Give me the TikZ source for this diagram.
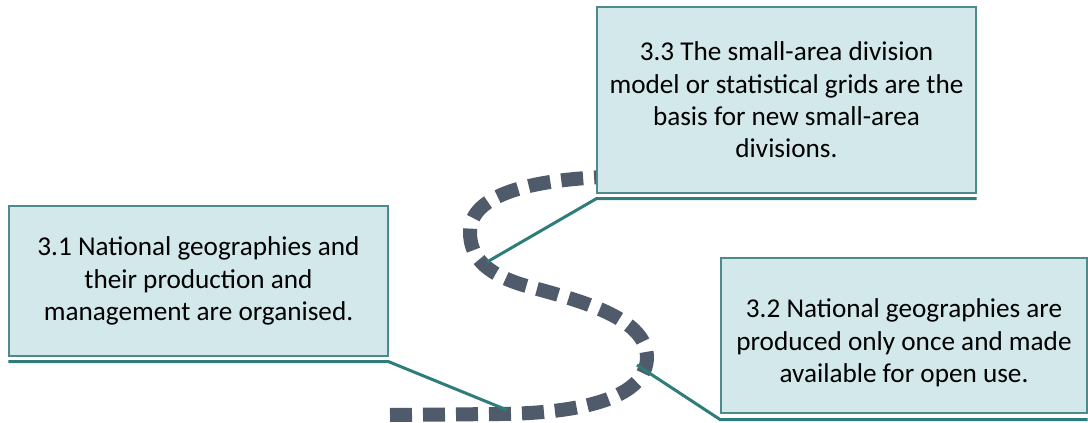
\documentclass[tikz,border=0pt]{standalone}
\usepackage{fontspec}
\setmainfont{Carlito}
\usepackage{xcolor}
\definecolor{Col1}{RGB}{78,138,140}
\definecolor{Col2}{RGB}{46,125,122}
\definecolor{Col3}{RGB}{210,232,234}
\definecolor{Col4}{RGB}{79,90,106}
\usepackage{tikz}
\tikzstyle{Box}=[draw=Col1,fill=Col3,line width=.7pt,align=center,
inner sep=0pt,font=\fontsize{13.6}{16.2}\selectfont]
\tikzstyle{Edge}=[draw=Col2,line width=1.5pt]
\tikzstyle{Road}=[draw=Col4,line width=7pt,dash pattern=on 11pt off 5.5pt]

\begin{document}
\begin{tikzpicture}[x=.5pt,y=-.5pt]
            \useasboundingbox(0,0)rectangle(1088,423);
            \draw[Road](390,415)--(500,414)
                ..controls(590,413)and(647,395)..(647,357)
                ..controls(646,320)and(590,303)..(530,287)
                ..controls(490,276)and(470,260)..(470,232)
                ..controls(470,195)and(530,180)..(605,177);
            \node[Box,minimum width=189.5pt,minimum height=75pt](b1)
                at(198.5,281){3.1 National geographies and\\
                their production and\\management are organised.};
            \node[Box,minimum width=189.5pt,minimum height=93pt](b3)
                at(786.5,100){3.3 The small-area division\\
                model or statistical grids are the\\
                basis for new small-area\\divisions.};
            \node[Box,minimum width=183pt,minimum height=77.5pt](b2)
                at(904,335.5){\rule{0pt}{17pt}3.2 National geographies are\\
                produced only once and made\\available for open use.};
            \coordinate(c1)at(507,410);
            \coordinate(c3)at(487,262);
            \coordinate(c2)at(637,365);
            \draw[Edge]([yshift=-2.5pt]b1.south west)
                --([yshift=-2.5pt]b1.south east)--(c1);
            \draw[Edge]([yshift=-2.5pt]b3.south east)
                --([yshift=-2.5pt]b3.south west)--(c3);
            \draw[Edge]([yshift=-3pt]b2.south east)
                --([yshift=-3pt]b2.south west)--(c2);
        \end{tikzpicture}
\end{document}
